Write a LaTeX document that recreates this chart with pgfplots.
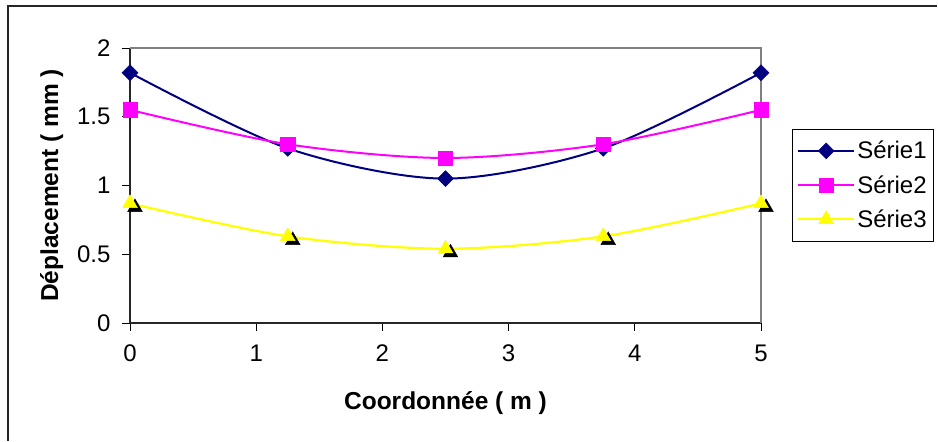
\documentclass[border=0pt]{standalone}
\usepackage{pgfplots}
\pgfplotsset{compat=1.18}
\usepackage{fontspec}
\setmainfont{Liberation Sans}
\definecolor{sNavy}{RGB}{0,0,128}
\definecolor{sMag}{RGB}{255,0,255}
\definecolor{sYel}{RGB}{255,255,0}
\definecolor{axgray}{RGB}{128,128,128}
\begin{document}
\begin{tikzpicture}
\fill[white] (0pt,0pt) rectangle (938pt,441pt);
\draw[line width=1.5pt,black!85] (8pt,0pt) -- (8pt,435pt) -- (937pt,435pt);
\begin{axis}[
  at={(130pt,118pt)}, anchor=south west,
  scale only axis, width=631pt, height=275pt,
  xmin=0, xmax=5, ymin=0, ymax=2,
  xtick={0,1,2,3,4,5}, ytick={0,0.5,1,1.5,2},
  yticklabels={0,0.5,1,1.5,2},
  axis lines=left, axis line style={-,line width=1.3pt,black!85},
  tick align=outside, major tick length=8pt,
  tick style={black,line width=0.8pt},
  /pgf/number format/assume math mode=true,
  ticklabel style={font=\fontsize{24}{28}\selectfont},
  xticklabel style={anchor=center, yshift=-22pt},
  yticklabel style={anchor=east, xshift=-8pt},
  xlabel={\textbf{Coordonnée ( m )}},
  ylabel={\textbf{Déplacement ( mm )}},
  label style={font=\fontsize{24.5}{28}\selectfont},
  xlabel style={at={(axis description cs:0.5,-0.291)}, anchor=center},
  ylabel style={at={(axis description cs:-0.124,0.5)}, anchor=center},
  clip=false,
  legend style={at={(1.049,0.705)}, anchor=north west, draw=black,
    font=\fontsize{24}{28}\selectfont, inner xsep=5pt, inner ysep=10pt, row sep=11pt,
    /tikz/every even column/.append style={column sep=4pt}},
  legend cell align=left,
  legend image code/.code={\draw[mark repeat=2,mark phase=2,#1] plot coordinates {(0pt,0pt) (28pt,0pt) (56pt,0pt)};},
]
\draw[axgray,line width=1.5pt] (rel axis cs:0,1) -- (rel axis cs:1,1) -- (rel axis cs:1,0);
\addplot[sNavy, line width=2pt, smooth, tension=0.5, mark=square*, mark size=5.6pt,
  mark options={rotate=45, fill=sNavy, draw=sNavy, line width=0.5pt}]
  coordinates {(0,1.82) (1.25,1.27) (2.5,1.05) (3.75,1.27) (5,1.82)};
\addlegendentry{Série1}
\addplot[sMag, line width=2pt, smooth, tension=0.5, mark=square*, mark size=7.2pt,
  mark options={fill=sMag, draw=sMag, line width=0.5pt}]
  coordinates {(0,1.55) (1.25,1.30) (2.5,1.20) (3.75,1.30) (5,1.55)};
\addlegendentry{Série2}
\addplot[only marks, black, mark=triangle*, mark size=8.5pt, forget plot,
  mark options={fill=black, draw=black, xshift=5pt, yshift=-4pt}]
  coordinates {(0,0.87) (1.25,0.63) (2.5,0.54) (3.75,0.63) (5,0.87)};
\addplot[sYel, line width=2.2pt, smooth, tension=0.5, mark=triangle*, mark size=8.5pt,
  mark options={fill=sYel, draw=sYel, line width=0.5pt}]
  coordinates {(0,0.87) (1.25,0.63) (2.5,0.54) (3.75,0.63) (5,0.87)};
\addlegendentry{Série3}
\end{axis}
\end{tikzpicture}
\end{document}
